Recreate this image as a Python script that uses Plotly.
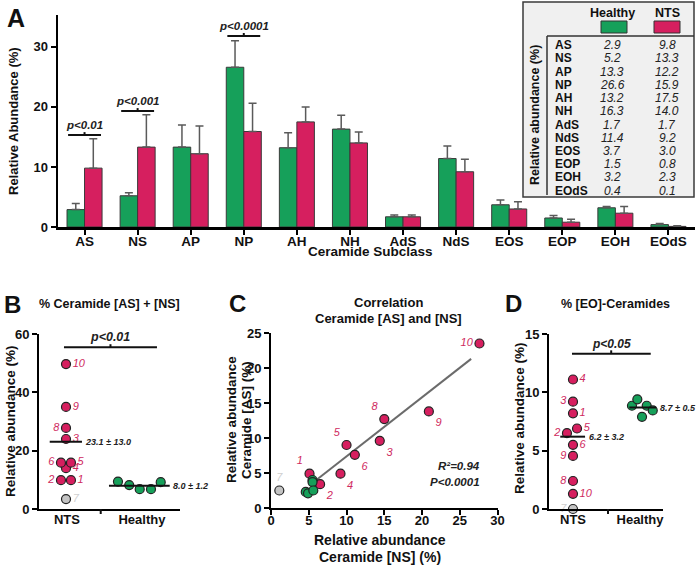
import plotly.graph_objects as go

W, H = 697, 565
FONT = "Liberation Sans, Arial, sans-serif"

# ---------------- Panel A data ----------------
subclasses = ["AS", "NS", "AP", "NP", "AH", "NH", "AdS", "NdS", "EOS", "EOP", "EOH", "EOdS"]
healthy_mean = [2.9, 5.2, 13.3, 26.6, 13.2, 16.3, 1.7, 11.4, 3.7, 1.5, 3.2, 0.4]
nts_mean = [9.8, 13.3, 12.2, 15.9, 17.5, 14.0, 1.7, 9.2, 3.0, 0.8, 2.3, 0.1]
healthy_err = [1.0, 0.5, 3.7, 4.4, 2.5, 2.3, 0.3, 2.1, 0.8, 0.4, 0.2, 0.2]
nts_err = [4.9, 5.4, 4.6, 4.7, 2.5, 1.8, 0.3, 2.1, 1.2, 0.5, 1.1, 0.1]
pval_groups = ["AS", "NS", "NP"]
pval_labels = ["p<0.01", "p<0.001", "p<0.0001"]
pval_heights = [15.3, 19.3, 31.8]

# ---------------- Panel B data ----------------
patient_ids = ["1", "2", "3", "4", "5", "6", "7", "8", "9", "10"]
b_nts = [9.9, 9.9, 24.0, 14.0, 15.9, 15.9, 3.4, 27.8, 35.0, 49.7]
b_healthy = [9.4, 8.2, 6.8, 6.8, 9.2]
b_nts_mean, b_nts_sd = 23.1, 13.0
b_healthy_mean, b_healthy_sd = 8.0, 1.2
b_pval = "p<0.01"

# ---------------- Panel C data ----------------
c_ns_nts = [5.1, 6.5, 14.4, 9.2, 10.0, 11.1, 1.1, 15.0, 20.9, 27.6]
c_as_nts = [4.9, 3.4, 9.6, 4.9, 9.0, 7.6, 2.5, 12.7, 13.8, 23.5]
c_ns_healthy = [4.6, 4.9, 5.5, 5.5, 5.6]
c_as_healthy = [2.3, 2.1, 4.0, 3.7, 2.5]
fit_ns = [6.0, 26.5]
fit_as = [4.0, 21.3]
c_r2 = "0.94"
c_p = "P<0.0001"

# ---------------- Panel D data ----------------
d_nts = [8.2, 6.5, 9.2, 11.1, 6.9, 5.5, 0.0, 2.4, 4.55, 1.3]
d_healthy = [8.85, 9.4, 7.9, 8.85, 8.45]
d_nts_mean, d_nts_sd = 6.2, 3.2
d_healthy_mean, d_healthy_sd = 8.7, 0.5
d_pval = "p<0.05"

# ---------------- styling ----------------
GREEN = "#16a05a"
RED = "#d61f5f"
GRAY = "#c4c4c4"
LABEL_RED = "#cf2a60"
EXCLUDED = "7"

# horizontal jitter (presentation only)
b_nts_jit = [0.053, -0.08, -0.013, -0.013, 0.053, -0.08, -0.013, -0.013, -0.013, -0.013]
b_h_jit = [-0.32, -0.17, -0.03, 0.12, 0.25]
b_lab_pos = ["middle right", "middle left", "middle right", "middle right", "middle right",
             "middle left", "middle right", "middle left", "middle right", "middle right"]
c_lab_pos = ["top left", "bottom right", "bottom right", "bottom right", "top left",
             "bottom right", "top center", "top left", "bottom right", "middle left"]
d_nts_jit = [0, -0.09, 0, 0, 0.06, 0, 0, 0, 0, 0]
d_h_jit = [-0.12, -0.04, 0.03, 0.1, 0.19]
d_lab_pos = ["middle right", "middle left", "middle left", "middle right", "middle right",
             "middle right", "middle left", "middle left", "middle left", "middle right"]


def xp(px):
    return px / W


def yp(py):
    return 1 - py / H


def pt_colors(ids):
    return [GRAY if i == EXCLUDED else RED for i in ids]


def lab_colors(ids):
    return ["#d0d0d0" if i == EXCLUDED else LABEL_RED for i in ids]


fig = go.Figure()

# ---------- A: bars ----------
err_style = dict(type="data", symmetric=False, color="#5a5a5a", thickness=1.5, width=4)
fig.add_trace(go.Bar(x=subclasses, y=healthy_mean, name="Healthy", marker_color=GREEN,
                     marker_line=dict(color="#3a3a3a", width=1),
                     error_y=dict(array=healthy_err, arrayminus=[0] * len(healthy_err), **err_style),
                     xaxis="x", yaxis="y", showlegend=False))
fig.add_trace(go.Bar(x=subclasses, y=nts_mean, name="NTS", marker_color=RED,
                     marker_line=dict(color="#3a3a3a", width=1),
                     error_y=dict(array=nts_err, arrayminus=[0] * len(nts_err), **err_style),
                     xaxis="x", yaxis="y", showlegend=False))

# ---------- B ----------
fig.add_trace(go.Scatter(x=[0 + j for j in b_nts_jit], y=b_nts, mode="markers+text",
                         text=patient_ids, textposition=b_lab_pos,
                         textfont=dict(family=FONT, size=11, color=lab_colors(patient_ids), style="italic"),
                         marker=dict(size=9, color=pt_colors(patient_ids), line=dict(color="#222", width=1.2)),
                         xaxis="x2", yaxis="y2", cliponaxis=False, showlegend=False))
fig.add_trace(go.Scatter(x=[1 + j for j in b_h_jit], y=b_healthy, mode="markers",
                         marker=dict(size=9, color=GREEN, line=dict(color="#222", width=1.2)),
                         xaxis="x2", yaxis="y2", cliponaxis=False, showlegend=False))

# ---------- C ----------
fig.add_trace(go.Scatter(x=fit_ns, y=fit_as, mode="lines", line=dict(color="#6b6b6b", width=2),
                         xaxis="x3", yaxis="y3", showlegend=False))
fig.add_trace(go.Scatter(x=c_ns_nts, y=c_as_nts, mode="markers+text",
                         text=patient_ids, textposition=c_lab_pos,
                         textfont=dict(family=FONT, size=11, color=lab_colors(patient_ids), style="italic"),
                         marker=dict(size=9, color=pt_colors(patient_ids), line=dict(color="#222", width=1.2)),
                         xaxis="x3", yaxis="y3", cliponaxis=False, showlegend=False))
fig.add_trace(go.Scatter(x=c_ns_healthy, y=c_as_healthy, mode="markers",
                         marker=dict(size=9, color=GREEN, line=dict(color="#222", width=1.2)),
                         xaxis="x3", yaxis="y3", cliponaxis=False, showlegend=False))

# ---------- D ----------
fig.add_trace(go.Scatter(x=[0 + j for j in d_nts_jit], y=d_nts, mode="markers+text",
                         text=patient_ids, textposition=d_lab_pos,
                         textfont=dict(family=FONT, size=11, color=lab_colors(patient_ids), style="italic"),
                         marker=dict(size=9, color=pt_colors(patient_ids), line=dict(color="#222", width=1.2)),
                         xaxis="x4", yaxis="y4", cliponaxis=False, showlegend=False))
fig.add_trace(go.Scatter(x=[1 + j for j in d_h_jit], y=d_healthy, mode="markers",
                         marker=dict(size=9, color=GREEN, line=dict(color="#222", width=1.2)),
                         xaxis="x4", yaxis="y4", cliponaxis=False, showlegend=False))


def axis(**kw):
    d = dict(showline=True, linecolor="black", linewidth=2, ticks="outside", ticklen=5, tickwidth=2,
             tickcolor="black", showgrid=False, zeroline=False, fixedrange=True, automargin=False,
             tickfont=dict(family=FONT, size=13, color="#111", weight="bold"))
    d.update(kw)
    return d


layout_axes = dict(
    xaxis=axis(domain=[xp(58), xp(695)], range=[-0.5, 11.5], anchor="y", linewidth=2.5,
               ticklabelstandoff=-5,
               tickfont=dict(family=FONT, size=13.5, color="#111", weight="bold")),
    yaxis=axis(domain=[yp(227), yp(15)], range=[0, 35.3], tickvals=[0, 10, 20, 30], anchor="x",
               linewidth=2.5),
    xaxis2=axis(domain=[xp(39), xp(180)], range=[-0.373, 1.507], anchor="y2", tickvals=[0, 1],
                ticktext=["NTS", "Healthy"], ticks="", ticklabelstandoff=-3),
    yaxis2=axis(domain=[yp(509), yp(334)], range=[0, 60], tickvals=[0, 20, 40, 60], anchor="x2"),
    xaxis3=axis(domain=[xp(271), xp(497.6)], range=[0, 30], tickvals=[0, 5, 10, 15, 20, 25, 30],
                anchor="y3", ticklabelstandoff=-6),
    yaxis3=axis(domain=[yp(508), yp(333)], range=[0, 25], tickvals=[0, 5, 10, 15, 20, 25], anchor="x3"),
    xaxis4=axis(domain=[xp(549), xp(663)], range=[-0.358, 1.343], anchor="y4", tickvals=[0, 1],
                ticktext=["NTS", "Healthy"], ticks="", ticklabelstandoff=-3),
    yaxis4=axis(domain=[yp(509), yp(334)], range=[0, 15], tickvals=[0, 5, 10, 15], anchor="x4"),
)

shapes = []
ann = []


def text(x, y, s, size=13, color="#111", xanchor="center", yanchor="middle", angle=0,
         xref="paper", yref="paper", conv=True):
    ann.append(dict(x=xp(x) if (conv and xref == "paper") else x,
                    y=yp(y) if (conv and yref == "paper") else y,
                    xref=xref, yref=yref, text=s, showarrow=False, xanchor=xanchor, yanchor=yanchor,
                    textangle=angle, font=dict(family=FONT, size=size, color=color)))


def line(x0, y0, x1, y1, xref="paper", yref="paper", color="#111", width=2):
    shapes.append(dict(type="line", x0=x0, y0=y0, x1=x1, y1=y1, xref=xref, yref=yref,
                       line=dict(color=color, width=width), layer="above"))


# ---- A annotations ----
text(16, 18, "<b>A</b>", size=25)
text(13, 121, "<b>Relative Abundance (%)</b>", size=13, angle=-90)
text(371, 252, "<b>Ceramide Subclass</b>", size=13.5)
for g, lab, hgt in zip(pval_groups, pval_labels, pval_heights):
    i = subclasses.index(g)
    line(i - 0.31, hgt, i + 0.31, hgt, "x", "y", width=2)
    line(i, hgt, i, hgt + 0.5, "x", "y", width=2)
    ann.append(dict(x=i, y=hgt, xref="x", yref="y", text="<b><i>" + lab + "</i></b>", showarrow=False,
                    yanchor="bottom", yshift=2, font=dict(family=FONT, size=11.5, color="#222")))

# inset table
shapes.append(dict(type="rect", x0=xp(523), x1=xp(694), y0=yp(197), y1=yp(2), xref="paper", yref="paper",
                   fillcolor="#f0f0f0", line=dict(color="#3a3a3a", width=1.5), layer="above"))
shapes.append(dict(type="rect", x0=xp(601), x1=xp(627), y0=yp(33), y1=yp(21), xref="paper", yref="paper",
                   fillcolor=GREEN, line=dict(color="#333", width=1), layer="above"))
shapes.append(dict(type="rect", x0=xp(654), x1=xp(680), y0=yp(33), y1=yp(21), xref="paper", yref="paper",
                   fillcolor=RED, line=dict(color="#333", width=1), layer="above"))
line(xp(547), yp(36), xp(694), yp(36), width=1.5, color="#333")
line(xp(547), yp(36), xp(547), yp(195), width=1.5, color="#333")
text(612, 13, "<b>Healthy</b>", size=12.5)
text(667, 13, "<b>NTS</b>", size=12.5)
text(535, 115, "<b>Relative abundance (%)</b>", size=12.5, angle=-90)
for r, (c, hv, nv) in enumerate(zip(subclasses, healthy_mean, nts_mean)):
    ry = 45 + r * 13.25
    text(553, ry, "<b>" + c + "</b>", size=12, xanchor="left")
    text(612, ry, "<i>%.1f</i>" % hv, size=12, color="#222")
    text(667, ry, "<i>%.1f</i>" % nv, size=12, color="#222")

# ---- B annotations ----
text(12, 304, "<b>B</b>", size=24)
text(37, 304, "<b>% Ceramide [AS] + [NS]</b>", size=12.5, xanchor="left")
text(10, 421, "<b>Relative abundance (%)</b>", size=13.5, angle=-90)
line(0.45, yp(509), 0.45, yp(514), "x2", "paper", width=2)
line(-0.23, b_nts_mean, 0.2, b_nts_mean, "x2", "y2", width=2)
line(0.56, b_healthy_mean, 1.37, b_healthy_mean, "x2", "y2", width=2)
ann.append(dict(x=0.2, y=b_nts_mean, xref="x2", yref="y2", showarrow=False, xanchor="left",
                text="<b><i>%.1f ± %.1f</i></b>" % (b_nts_mean, b_nts_sd), xshift=1,
                font=dict(family=FONT, size=9, color="#222")))
ann.append(dict(x=1.37, y=b_healthy_mean, xref="x2", yref="y2", showarrow=False, xanchor="left",
                text="<b><i>%.1f ± %.1f</i></b>" % (b_healthy_mean, b_healthy_sd), xshift=1,
                font=dict(family=FONT, size=9, color="#222")))
line(-0.04, 55.5, 1.2, 55.5, "x2", "y2", width=2)
line(0.58, 55.5, 0.58, 56.5, "x2", "y2", width=2)
ann.append(dict(x=0.58, y=55.5, xref="x2", yref="y2", showarrow=False, yanchor="bottom", yshift=1,
                text="<b><i>" + b_pval + "</i></b>", font=dict(family=FONT, size=12.5, color="#222")))

# ---- C annotations ----
text(237, 303, "<b>C</b>", size=24)
text(388, 302, "<b>Correlation</b>", size=13)
text(388, 318, "<b>Ceramide [AS] and [NS]</b>", size=13)
text(231, 420, "<b>Relative abundance</b>", size=13.5, angle=-90)
text(246, 420, "<b>Ceramide [AS] (%)</b>", size=13.5, angle=-90)
text(380, 540, "<b>Relative abundance</b>", size=14)
text(380, 557, "<b>Ceramide [NS] (%)</b>", size=14)
text(482, 466, "<b><i>R²=" + c_r2 + "</i></b>", size=11.5, xanchor="right", color="#222")
text(482, 482, "<b><i>" + c_p + "</i></b>", size=11.5, xanchor="right", color="#222")

# ---- D annotations ----
text(513, 303, "<b>D</b>", size=24)
text(615, 304, "<b>% [EO]-Ceramides</b>", size=12.5)
text(519, 418, "<b>Relative abundance (%)</b>", size=13.5, angle=-90)
line(0.522, yp(509), 0.522, yp(514), "x4", "paper", width=2)
line(-0.19, d_nts_mean, 0.18, d_nts_mean, "x4", "y4", width=2)
line(0.84, d_healthy_mean, 1.24, d_healthy_mean, "x4", "y4", width=2)
ann.append(dict(x=0.18, y=d_nts_mean, xref="x4", yref="y4", showarrow=False, xanchor="left",
                text="<b><i>%.1f ± %.1f</i></b>" % (d_nts_mean, d_nts_sd), xshift=2,
                font=dict(family=FONT, size=9, color="#222")))
ann.append(dict(x=1.24, y=d_healthy_mean, xref="x4", yref="y4", showarrow=False, xanchor="left",
                text="<b><i>%.1f ± %.1f</i></b>" % (d_healthy_mean, d_healthy_sd), xshift=2,
                font=dict(family=FONT, size=9, color="#222")))
line(-0.015, 13.3, 1.16, 13.3, "x4", "y4", width=2)
line(0.57, 13.3, 0.57, 13.6, "x4", "y4", width=2)
ann.append(dict(x=0.57, y=13.3, xref="x4", yref="y4", showarrow=False, yanchor="bottom", yshift=1,
                text="<b><i>" + d_pval + "</i></b>", font=dict(family=FONT, size=12, color="#222")))

fig.update_layout(
    width=W, height=H, margin=dict(l=0, r=0, t=0, b=0, pad=0, autoexpand=False),
    paper_bgcolor="white", plot_bgcolor="white",
    barmode="group", bargap=0.34, bargroupgap=0,
    font=dict(family=FONT, color="#111"),
    shapes=shapes, annotations=ann, showlegend=False,
    **layout_axes,
)

fig.write_html("out.html", config={"displayModeBar": False, "staticPlot": True},
               post_script="document.body.style.margin='0';")
